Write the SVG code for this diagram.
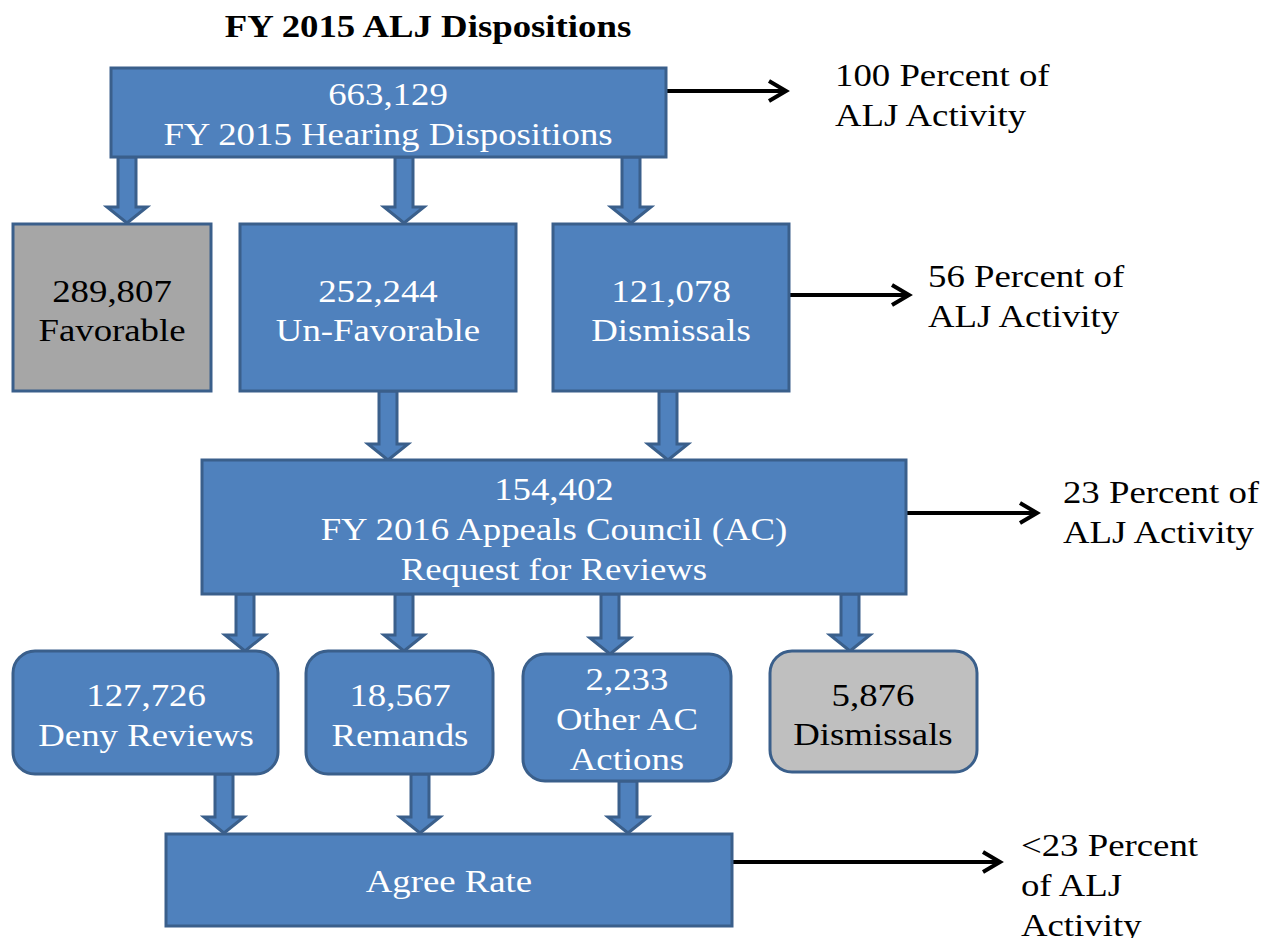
<svg xmlns="http://www.w3.org/2000/svg" width="1274" height="938" viewBox="0 0 1274 938">
<style>
.box{fill:#4F81BD;stroke:#3A5F8B;stroke-width:3}
.gray1{fill:#A6A6A6;stroke:#3A5F8B;stroke-width:3}
.gray2{fill:#BFBFBF;stroke:#3A5F8B;stroke-width:3}
.blk{fill:#4F81BD;stroke:#3A5F8B;stroke-width:3;stroke-linejoin:miter}
.ln{stroke:#000;stroke-width:4;fill:none}
text{font-family:"Liberation Serif","Times New Roman",serif;font-size:32px}
.w{fill:#fff;text-anchor:middle}
.k{fill:#000;text-anchor:middle}
.s{fill:#000}
</style>
<defs>
<marker id="ah" markerWidth="8" markerHeight="8" viewBox="0 0 8 8" refX="6.5" refY="4" orient="auto" markerUnits="userSpaceOnUse">
<path d="M0,0 L6.5,4 L0,8" fill="none" stroke="#000" stroke-width="1"/>
</marker>
</defs>
<rect width="1274" height="938" fill="#fff"/>
<text id="title" x="372.2" y="37" transform="scale(1.15 1)" class="k" style="font-weight:bold">FY 2015 ALJ Dispositions</text>

<g id="connectors">
<polygon class="blk" points="118,157 136,157 136,207 147,207 127,223 107,207 118,207"/>
<polygon class="blk" points="395,157 413,157 413,207 424,207 404,223 384,207 395,207"/>
<polygon class="blk" points="622,157 640,157 640,207 651,207 631,223 611,207 622,207"/>
<polygon class="blk" points="379,391 397,391 397,444 408,444 388,460 368,444 379,444"/>
<polygon class="blk" points="659,391 677,391 677,444 688,444 668,460 648,444 659,444"/>
<polygon class="blk" points="236,594 254,594 254,635 265,635 245,651 225,635 236,635"/>
<polygon class="blk" points="395,594 413,594 413,635 424,635 404,651 384,635 395,635"/>
<polygon class="blk" points="601,594 619,594 619,638 630,638 610,654 590,638 601,638"/>
<polygon class="blk" points="841,594 859,594 859,635 870,635 850,651 830,635 841,635"/>
<polygon class="blk" points="215,774 233,774 233,817 244,817 224,833 204,817 215,817"/>
<polygon class="blk" points="411,774 429,774 429,817 440,817 420,833 400,817 411,817"/>
<polygon class="blk" points="619,781 637,781 637,817 648,817 628,833 608,817 619,817"/>
<line class="ln" x1="666" y1="91" x2="786" y2="91"/>
<path class="ln" d="M769,81 L786,91 L769,101"/>
<line class="ln" x1="789" y1="295" x2="909" y2="295"/>
<path class="ln" d="M892,285 L909,295 L892,305"/>
<line class="ln" x1="906" y1="513" x2="1037" y2="513"/>
<path class="ln" d="M1020,503 L1037,513 L1020,523"/>
<line class="ln" x1="732" y1="862" x2="1000" y2="862"/>
<path class="ln" d="M983,852 L1000,862 L983,872"/>
</g>

<g id="n-hearing">
<rect class="box" x="111" y="68" width="555" height="89"/>
<text class="w" transform="scale(1.15 1)" x="337.4" y="105">663,129</text>
<text class="w" transform="scale(1.15 1)" x="337.4" y="145">FY 2015 Hearing Dispositions</text>
</g>
<g id="n-favorable">
<rect class="gray1" x="13" y="224" width="198" height="167"/>
<text class="k" transform="scale(1.15 1)" x="97.4" y="302">289,807</text>
<text class="k" transform="scale(1.15 1)" x="97.4" y="341">Favorable</text>
</g>
<g id="n-unfavorable">
<rect class="box" x="240" y="224" width="276" height="167"/>
<text class="w" transform="scale(1.15 1)" x="328.7" y="302">252,244</text>
<text class="w" transform="scale(1.15 1)" x="328.7" y="341">Un-Favorable</text>
</g>
<g id="n-dismissals">
<rect class="box" x="553" y="224" width="236" height="167"/>
<text class="w" transform="scale(1.15 1)" x="583.5" y="302">121,078</text>
<text class="w" transform="scale(1.15 1)" x="583.5" y="341">Dismissals</text>
</g>
<g id="n-ac">
<rect class="box" x="202" y="460" width="704" height="134"/>
<text class="w" transform="scale(1.15 1)" x="481.7" y="500">154,402</text>
<text class="w" transform="scale(1.15 1)" x="481.7" y="540">FY 2016 Appeals Council (AC)</text>
<text class="w" transform="scale(1.15 1)" x="481.7" y="580">Request for Reviews</text>
</g>
<g id="n-deny">
<rect class="box" x="13" y="651" width="265" height="123" rx="22"/>
<text class="w" transform="scale(1.15 1)" x="127" y="706">127,726</text>
<text class="w" transform="scale(1.15 1)" x="127" y="746">Deny Reviews</text>
</g>
<g id="n-remands">
<rect class="box" x="306" y="651" width="187" height="123" rx="22"/>
<text class="w" transform="scale(1.15 1)" x="347.8" y="706">18,567</text>
<text class="w" transform="scale(1.15 1)" x="347.8" y="746">Remands</text>
</g>
<g id="n-other">
<rect class="box" x="523" y="654" width="208" height="127" rx="22"/>
<text class="w" transform="scale(1.15 1)" x="545.2" y="690">2,233</text>
<text class="w" transform="scale(1.15 1)" x="545.2" y="730">Other AC</text>
<text class="w" transform="scale(1.15 1)" x="545.2" y="770">Actions</text>
</g>
<g id="n-dismissals2">
<rect class="gray2" x="770" y="651" width="207" height="121" rx="22"/>
<text class="k" transform="scale(1.15 1)" x="759.1" y="706">5,876</text>
<text class="k" transform="scale(1.15 1)" x="759.1" y="745">Dismissals</text>
</g>
<g id="n-agree">
<rect class="box" x="166" y="834" width="566" height="92"/>
<text class="w" transform="scale(1.15 1)" x="390.4" y="892">Agree Rate</text>
</g>

<g id="t-100">
<text class="s" transform="scale(1.15 1)" x="726.1" y="86">100 Percent of</text>
<text class="s" transform="scale(1.15 1)" x="726.1" y="126">ALJ Activity</text>
</g>
<g id="t-56">
<text class="s" transform="scale(1.15 1)" x="807" y="287">56 Percent of</text>
<text class="s" transform="scale(1.15 1)" x="807" y="327">ALJ Activity</text>
</g>
<g id="t-23">
<text class="s" transform="scale(1.15 1)" x="924.3" y="503">23 Percent of</text>
<text class="s" transform="scale(1.15 1)" x="924.3" y="543">ALJ Activity</text>
</g>
<g id="t-lt23">
<text class="s" transform="scale(1.15 1)" x="887.8" y="856">&lt;23 Percent</text>
<text class="s" transform="scale(1.15 1)" x="887.8" y="896">of ALJ</text>
<text class="s" transform="scale(1.15 1)" x="887.8" y="936">Activity</text>
</g>
</svg>
